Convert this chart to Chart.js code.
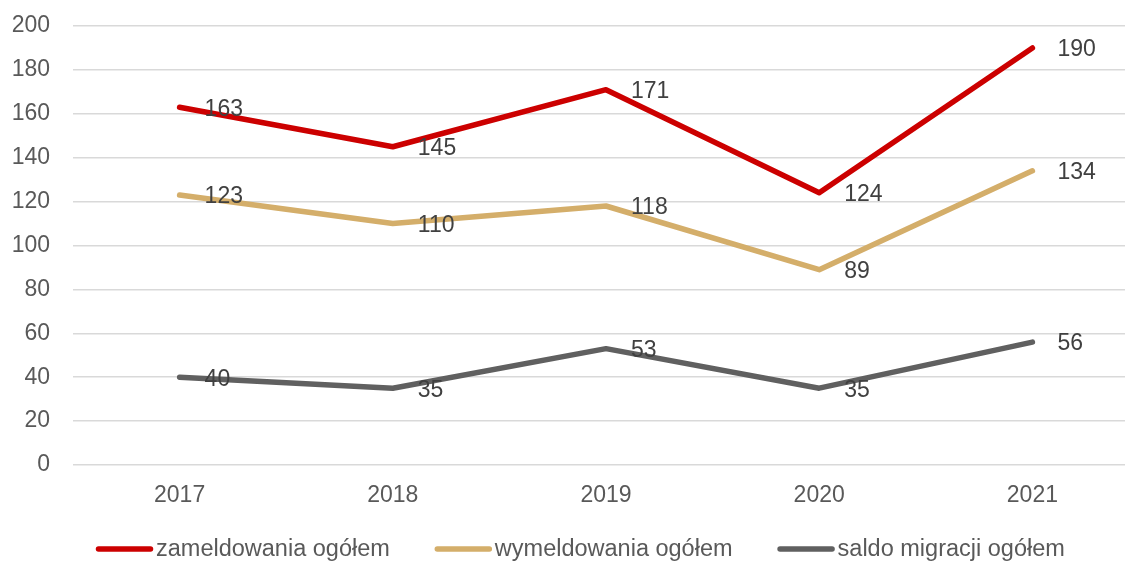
<!DOCTYPE html>
<html>
<head>
<meta charset="utf-8">
<script src="https://cdn.jsdelivr.net/npm/chart.js@4/dist/chart.umd.min.js"></script>
<style>
   html, body { margin: 0; padding: 0; background: #fff; overflow: hidden; }
   #wrap { width: 1139px; height: 561px; }
</style>
</head>
<body>
<div id="wrap"><canvas id="myChart"></canvas></div>
<script>
const years = ['2017', '2018', '2019', '2020', '2021'];
const zameldowania = [163, 145, 171, 124, 190];
const wymeldowania = [123, 110, 118, 89, 134];
const saldo = [40, 35, 53, 35, 56];
const yTicks = [0, 20, 40, 60, 80, 100, 120, 140, 160, 180, 200];

const COLORS = {
   red: '#CC0000',
   tan: '#D4AE6A',
   gray: '#606060',
   text: '#595959',
   label: '#404040',
   grid: '#D9D9D9',
}
const FONT = 'Liberation Sans, Arial, sans-serif';

const makeDataset = (label, data, color) => ({
   label: label,
   data: data,
   borderColor: color,
   backgroundColor: color,
   borderWidth: 5.5,
   borderCapStyle: 'round',
   borderJoinStyle: 'round',
   pointRadius: 0,
   tension: 0,
   fill: false,
})

// values drawn to the right of each point
const valueLabels = {
   id: 'valueLabels',
   afterDatasetsDraw(chart) {
      const ctx = chart.ctx;
      ctx.save();
      ctx.font = '23px ' + FONT;
      ctx.fillStyle = COLORS.label;
      ctx.textAlign = 'left';
      ctx.textBaseline = 'middle';
      chart.data.datasets.forEach((ds, i) => {
         const meta = chart.getDatasetMeta(i);
         meta.data.forEach((pt, j) => {
            ctx.fillText(String(ds.data[j]), pt.x + 25, pt.y + 2);
         })
      })
      ctx.restore();
   }
}

// legend along the bottom: short thick line, then the name
const bottomLegend = {
   id: 'bottomLegend',
   afterDraw(chart) {
      const ctx = chart.ctx;
      const swatch = 57, gap = 3, spacing = 45;
      const y = 549;
      let x = 96;
      ctx.save();
      ctx.font = '23.5px ' + FONT;
      chart.data.datasets.forEach((ds) => {
         ctx.strokeStyle = ds.borderColor;
         ctx.lineWidth = 5.5;
         ctx.lineCap = 'round';
         ctx.beginPath();
         ctx.moveTo(x + 2.5, y);
         ctx.lineTo(x + swatch - 2.5, y);
         ctx.stroke();
         ctx.fillStyle = COLORS.text;
         ctx.textAlign = 'left';
         ctx.textBaseline = 'middle';
         ctx.fillText(ds.label, x + swatch + gap, y + 1);
         x += swatch + gap + ctx.measureText(ds.label).width + spacing;
      })
      ctx.restore();
   }
}

const config = {
   type: 'line',
   data: {
      labels: years,
      datasets: [
         makeDataset('zameldowania ogółem', zameldowania, COLORS.red),
         makeDataset('wymeldowania ogółem', wymeldowania, COLORS.tan),
         makeDataset('saldo migracji ogółem', saldo, COLORS.gray),
      ]
   },
   options: {
      responsive: true,
      maintainAspectRatio: false,
      animation: false,
      layout: {
         padding: { left: 0, top: 26, right: 0, bottom: 36 }
      },
      plugins: {
         legend: { display: false },
         tooltip: { enabled: false },
      },
      scales: {
         x: {
            offset: true,
            grid: { display: false },
            border: { display: false },
            ticks: {
               color: COLORS.text,
               font: { family: FONT, size: 23 },
               padding: 9,
               maxRotation: 0,
            },
            afterFit: (scale) => { scale.height = 60; },
         },
         y: {
            min: 0,
            max: 200,
            afterBuildTicks: (scale) => { scale.ticks = yTicks.map(v => ({ value: v })); },
            grid: {
               color: COLORS.grid,
               lineWidth: 1.5,
               drawTicks: false,
            },
            border: { display: false },
            ticks: {
               color: COLORS.text,
               font: { family: FONT, size: 23 },
               padding: 23,
            },
            afterFit: (scale) => {
               scale.width = 73;
               scale.paddingTop = 0;
               scale.paddingBottom = 0;
            },
         }
      }
   },
   plugins: [valueLabels, bottomLegend]
};

const ctx = document.getElementById('myChart').getContext('2d');
const myChart = new Chart(ctx, config);
</script>
</body>
</html>
